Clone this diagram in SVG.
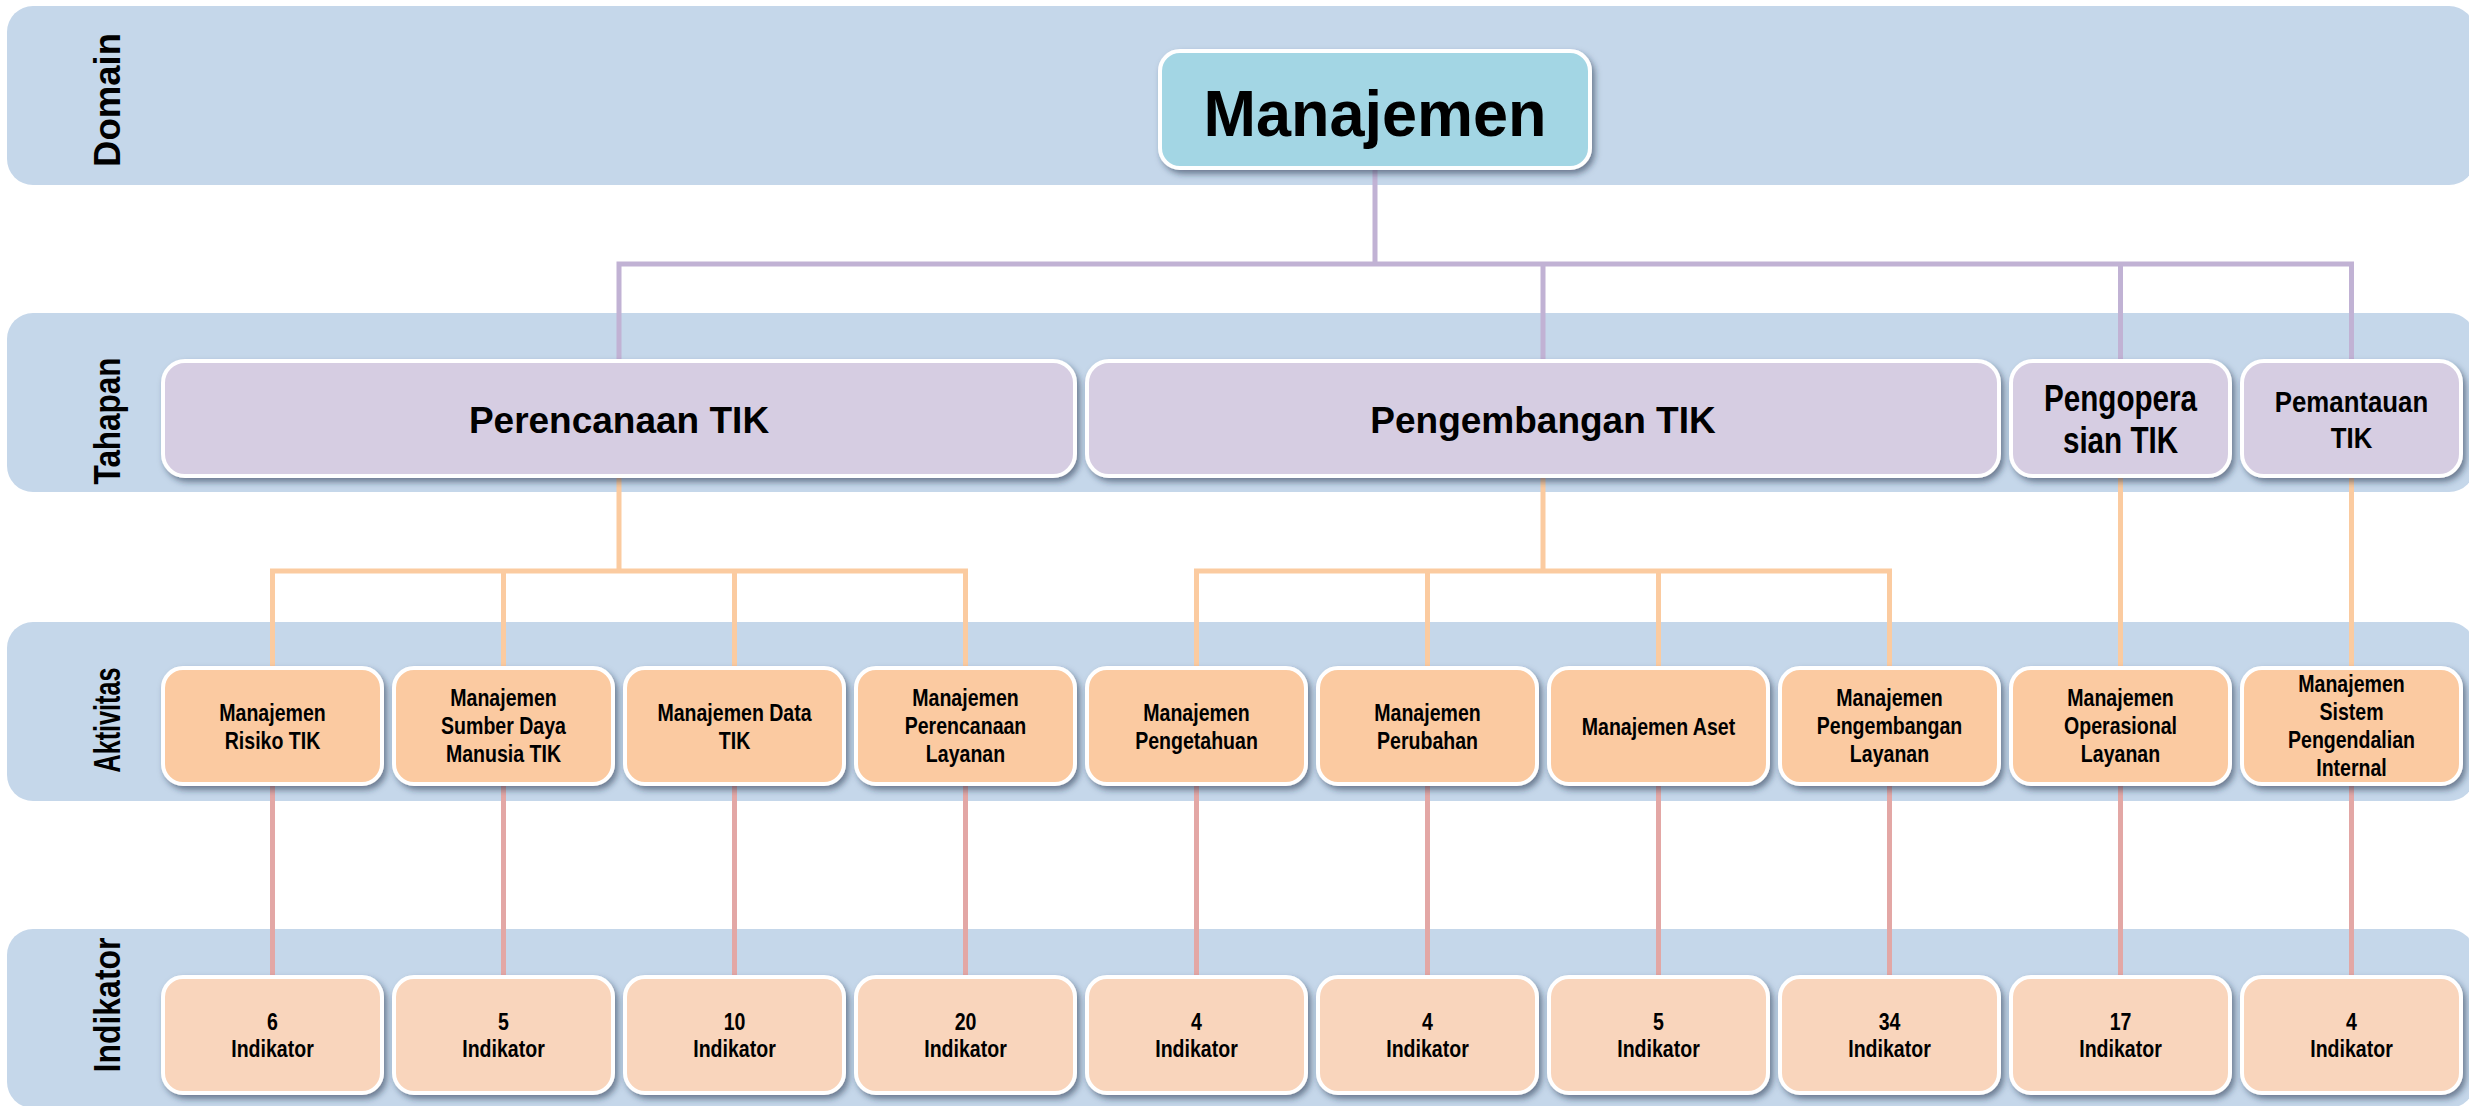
<svg xmlns="http://www.w3.org/2000/svg" width="2469" height="1106" viewBox="0 0 2469 1106">
<style>
.band{fill:#c5d7ea}
.box{stroke:#ffffff;stroke-width:4;filter:url(#sh)}
.dom{fill:#a3d6e4}
.tah{fill:#d6cde2}
.akt{fill:#fbcaa1}
.ind{fill:#f9d5bc}
.lbl{font-family:"Liberation Sans",Arial,sans-serif;font-weight:bold;font-size:36px;fill:#000;text-anchor:middle}
.t{font-family:"Liberation Sans",Arial,sans-serif;font-weight:bold;fill:#000;text-anchor:middle}
.s23{font-size:23px}
.cp{stroke:#c1b2d4;stroke-width:5;fill:none}
.co{stroke:#fbcba0;stroke-width:5;fill:none}
.ck{stroke:#e3a7a5;stroke-width:5;fill:none}
</style>
<defs>
<filter id="sh" x="-10%" y="-10%" width="130%" height="140%">
<feDropShadow dx="3" dy="4" stdDeviation="3" flood-color="#1f2d4a" flood-opacity="0.55"/>
</filter>
</defs>

<g id="bands">
<rect class="band" x="7" y="6" width="2468" height="179" rx="26"/>
<rect class="band" x="7" y="313" width="2468" height="179" rx="26"/>
<rect class="band" x="7" y="622" width="2468" height="179" rx="26"/>
<rect class="band" x="7" y="929" width="2468" height="179" rx="26"/>
<text class="lbl" transform="translate(120 100) rotate(-90)" textLength="134" lengthAdjust="spacingAndGlyphs">Domain</text>
<text class="lbl" transform="translate(120 421) rotate(-90)" textLength="127" lengthAdjust="spacingAndGlyphs">Tahapan</text>
<text class="lbl" transform="translate(120 720) rotate(-90)" textLength="105" lengthAdjust="spacingAndGlyphs">Aktivitas</text>
<text class="lbl" transform="translate(120 1005) rotate(-90)" textLength="135" lengthAdjust="spacingAndGlyphs">Indikator</text>
</g>

<g id="connectors">
<path class="cp" d="M1375 168 V264 M619 361 V264 H2351.5 V361 M1543 264 V361 M2120.5 264 V361"/>
<path class="co" d="M619 476 V571 M272.5 668 V571 H965.5 V668 M503.5 571 V668 M734.5 571 V668 M1543 476 V571 M1196.5 668 V571 H1889.5 V668 M1427.5 571 V668 M1658.5 571 V668 M2120.5 476 V668 M2351.5 476 V668"/>
<path class="ck" d="M272.5 784 V977 M503.5 784 V977 M734.5 784 V977 M965.5 784 V977 M1196.5 784 V977 M1427.5 784 V977 M1658.5 784 V977 M1889.5 784 V977 M2120.5 784 V977 M2351.5 784 V977"/>
</g>

<g id="manajemen">
<rect class="box dom" x="1160" y="51" width="430" height="117" rx="20"/>
<text class="t" x="1375" y="136" font-size="64" textLength="343" lengthAdjust="spacingAndGlyphs">Manajemen</text>
</g>

<g id="perencanaan-tik">
<rect class="box tah" x="163" y="361" width="912" height="115" rx="22"/>
<text class="t" x="619" y="433" font-size="37">Perencanaan TIK</text>
</g>
<g id="pengembangan-tik">
<rect class="box tah" x="1087" y="361" width="912" height="115" rx="22"/>
<text class="t" x="1543" y="433" font-size="37">Pengembangan TIK</text>
</g>
<g id="pengoperasian-tik">
<rect class="box tah" x="2011" y="361" width="219" height="115" rx="22"/>
<text class="t" font-size="37" transform="matrix(0.8 0 0 1 2120.5 0)"><tspan x="0" y="411">Pengopera</tspan><tspan x="0" y="453">sian TIK</tspan></text>
</g>
<g id="pemantauan-tik">
<rect class="box tah" x="2242" y="361" width="219" height="115" rx="22"/>
<text class="t" font-size="30" transform="matrix(0.86 0 0 1 2351.5 0)"><tspan x="0" y="412">Pemantauan</tspan><tspan x="0" y="448">TIK</tspan></text>
</g>

<g id="akt-risiko">
<rect class="box akt" x="163" y="668" width="219" height="116" rx="20"/>
<text class="t s23" transform="matrix(0.85 0 0 1 272.5 0)"><tspan x="0" y="721.5">Manajemen</tspan><tspan x="0" y="749">Risiko TIK</tspan></text>
</g>
<g id="akt-sdm">
<rect class="box akt" x="394" y="668" width="219" height="116" rx="20"/>
<text class="t s23" transform="matrix(0.85 0 0 1 503.5 0)"><tspan x="0" y="706">Manajemen</tspan><tspan x="0" y="734">Sumber Daya</tspan><tspan x="0" y="762">Manusia TIK</tspan></text>
</g>
<g id="akt-data">
<rect class="box akt" x="625" y="668" width="219" height="116" rx="20"/>
<text class="t s23" transform="matrix(0.85 0 0 1 734.5 0)"><tspan x="0" y="721.5">Manajemen Data</tspan><tspan x="0" y="749">TIK</tspan></text>
</g>
<g id="akt-perencanaan-layanan">
<rect class="box akt" x="856" y="668" width="219" height="116" rx="20"/>
<text class="t s23" transform="matrix(0.85 0 0 1 965.5 0)"><tspan x="0" y="706">Manajemen</tspan><tspan x="0" y="734">Perencanaan</tspan><tspan x="0" y="762">Layanan</tspan></text>
</g>
<g id="akt-pengetahuan">
<rect class="box akt" x="1087" y="668" width="219" height="116" rx="20"/>
<text class="t s23" transform="matrix(0.85 0 0 1 1196.5 0)"><tspan x="0" y="721.5">Manajemen</tspan><tspan x="0" y="749">Pengetahuan</tspan></text>
</g>
<g id="akt-perubahan">
<rect class="box akt" x="1318" y="668" width="219" height="116" rx="20"/>
<text class="t s23" transform="matrix(0.85 0 0 1 1427.5 0)"><tspan x="0" y="721.5">Manajemen</tspan><tspan x="0" y="749">Perubahan</tspan></text>
</g>
<g id="akt-aset">
<rect class="box akt" x="1549" y="668" width="219" height="116" rx="20"/>
<text class="t s23" transform="matrix(0.85 0 0 1 1658.5 0)"><tspan x="0" y="735">Manajemen Aset</tspan></text>
</g>
<g id="akt-pengembangan-layanan">
<rect class="box akt" x="1780" y="668" width="219" height="116" rx="20"/>
<text class="t s23" transform="matrix(0.85 0 0 1 1889.5 0)"><tspan x="0" y="706">Manajemen</tspan><tspan x="0" y="734">Pengembangan</tspan><tspan x="0" y="762">Layanan</tspan></text>
</g>
<g id="akt-operasional-layanan">
<rect class="box akt" x="2011" y="668" width="219" height="116" rx="20"/>
<text class="t s23" transform="matrix(0.85 0 0 1 2120.5 0)"><tspan x="0" y="706">Manajemen</tspan><tspan x="0" y="734">Operasional</tspan><tspan x="0" y="762">Layanan</tspan></text>
</g>
<g id="akt-spi">
<rect class="box akt" x="2242" y="668" width="219" height="116" rx="20"/>
<text class="t s23" transform="matrix(0.85 0 0 1 2351.5 0)"><tspan x="0" y="692">Manajemen</tspan><tspan x="0" y="720">Sistem</tspan><tspan x="0" y="748">Pengendalian</tspan><tspan x="0" y="776">Internal</tspan></text>
</g>

<g id="ind-1"><rect class="box ind" x="163" y="977" width="219" height="116" rx="20"/><text class="t s23" transform="matrix(0.85 0 0 1 272.5 0)"><tspan x="0" y="1030">6</tspan><tspan x="0" y="1057">Indikator</tspan></text></g>
<g id="ind-2"><rect class="box ind" x="394" y="977" width="219" height="116" rx="20"/><text class="t s23" transform="matrix(0.85 0 0 1 503.5 0)"><tspan x="0" y="1030">5</tspan><tspan x="0" y="1057">Indikator</tspan></text></g>
<g id="ind-3"><rect class="box ind" x="625" y="977" width="219" height="116" rx="20"/><text class="t s23" transform="matrix(0.85 0 0 1 734.5 0)"><tspan x="0" y="1030">10</tspan><tspan x="0" y="1057">Indikator</tspan></text></g>
<g id="ind-4"><rect class="box ind" x="856" y="977" width="219" height="116" rx="20"/><text class="t s23" transform="matrix(0.85 0 0 1 965.5 0)"><tspan x="0" y="1030">20</tspan><tspan x="0" y="1057">Indikator</tspan></text></g>
<g id="ind-5"><rect class="box ind" x="1087" y="977" width="219" height="116" rx="20"/><text class="t s23" transform="matrix(0.85 0 0 1 1196.5 0)"><tspan x="0" y="1030">4</tspan><tspan x="0" y="1057">Indikator</tspan></text></g>
<g id="ind-6"><rect class="box ind" x="1318" y="977" width="219" height="116" rx="20"/><text class="t s23" transform="matrix(0.85 0 0 1 1427.5 0)"><tspan x="0" y="1030">4</tspan><tspan x="0" y="1057">Indikator</tspan></text></g>
<g id="ind-7"><rect class="box ind" x="1549" y="977" width="219" height="116" rx="20"/><text class="t s23" transform="matrix(0.85 0 0 1 1658.5 0)"><tspan x="0" y="1030">5</tspan><tspan x="0" y="1057">Indikator</tspan></text></g>
<g id="ind-8"><rect class="box ind" x="1780" y="977" width="219" height="116" rx="20"/><text class="t s23" transform="matrix(0.85 0 0 1 1889.5 0)"><tspan x="0" y="1030">34</tspan><tspan x="0" y="1057">Indikator</tspan></text></g>
<g id="ind-9"><rect class="box ind" x="2011" y="977" width="219" height="116" rx="20"/><text class="t s23" transform="matrix(0.85 0 0 1 2120.5 0)"><tspan x="0" y="1030">17</tspan><tspan x="0" y="1057">Indikator</tspan></text></g>
<g id="ind-10"><rect class="box ind" x="2242" y="977" width="219" height="116" rx="20"/><text class="t s23" transform="matrix(0.85 0 0 1 2351.5 0)"><tspan x="0" y="1030">4</tspan><tspan x="0" y="1057">Indikator</tspan></text></g>
</svg>
